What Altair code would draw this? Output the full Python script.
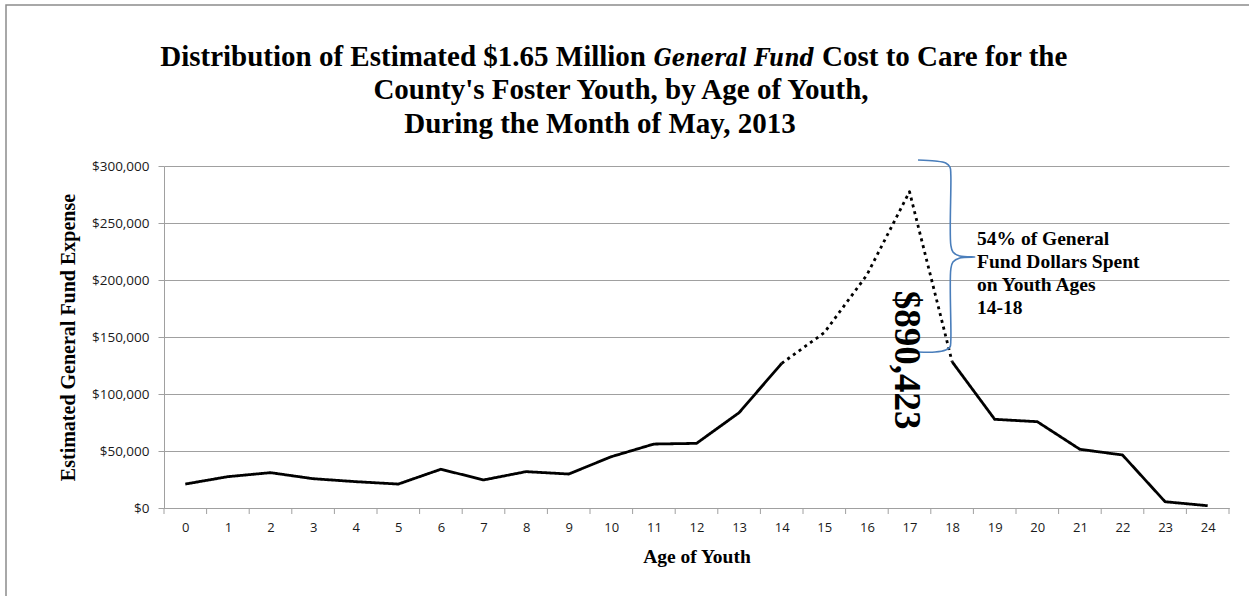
import altair as alt
import pandas as pd

# ---- data ----
ages = list(range(25))
cost = [21000, 27500, 31000, 25700, 23100, 21000, 34000, 24600, 31900, 29800,
        45000, 56100, 56700, 83600, 126900, 153800, 204400, 277500, 128300,
        77800, 75700, 51500, 46500, 5500, 2000]
dotted_start, dotted_end = 14, 18
y_ticks = [0, 50000, 100000, 150000, 200000, 250000, 300000]

title_l1 = ["Distribution of Estimated $1.65 Million", "General Fund", "Cost to Care for the"]
title_l2 = "County's Foster Youth, by Age of Youth,"
title_l3 = "During the Month of May, 2013"
big_label = "$890,423"
note_lines = ["54% of General", "Fund Dollars Spent", "on Youth Ages", "14-18"]

# brace outline (age units, dollars)
brace_x = [17.20, 17.60, 17.85, 17.95, 17.97, 17.97, 18.02, 18.18, 18.53,
           18.18, 18.02, 17.97, 17.97, 17.95, 17.85, 17.60, 17.20]
brace_y = [305300, 304400, 302600, 299100, 292100, 230700, 224600, 221000, 220200,
           219300, 215800, 209600, 147400, 141200, 138600, 136800, 136800]

# ---- build tables ----
rows = []
for a, c in zip(ages, cost):
    if a <= dotted_start:
        rows.append({"age": a, "cost": c, "seg": "a"})
    if dotted_start <= a <= dotted_end:
        rows.append({"age": a, "cost": c, "seg": "b"})
    if a >= dotted_end:
        rows.append({"age": a, "cost": c, "seg": "c"})
df = pd.DataFrame(rows)
edges = pd.DataFrame({"edge": [a - 0.5 for a in ages] + [ages[-1] + 0.5]})
brace = pd.DataFrame({"bx": brace_x, "by": brace_y, "i": range(len(brace_x))})
one = pd.DataFrame({"k": [0]})

W, H = 1065, 342
GRAY = "#a0a0a0"
SERIF = "Liberation Serif"
SANS = "Open Sans"

x_scale = alt.Scale(domain=[-0.5, 24.5], nice=False, zero=False)
y_scale = alt.Scale(domain=[0, 300000], nice=False, zero=True)

line = alt.Chart(df).mark_line(color="black", strokeWidth=2.8, strokeJoin="round").encode(
    x=alt.X("age:Q", scale=x_scale,
            axis=alt.Axis(values=ages, ticks=False, grid=False, domainColor=GRAY,
                          labelFont=SANS, labelFontSize=13, labelColor="#1a1a1a",
                          labelPadding=13, title="Age of Youth", titleFont=SERIF,
                          titleFontSize=19.5, titleFontWeight="bold", titleColor="black",
                          titleY=48, titleBaseline="middle")),
    y=alt.Y("cost:Q", scale=y_scale,
            axis=alt.Axis(values=y_ticks, format="$,.0f", grid=True, gridColor=GRAY,
                          domainColor=GRAY, tickColor=GRAY, tickSize=6,
                          labelFont=SANS, labelFontSize=13.5, labelColor="#1a1a1a",
                          labelPadding=9, title="Estimated General Fund Expense",
                          titleFont=SERIF, titleFontSize=20, titleFontWeight="bold",
                          titleColor="black", titleX=-96, titleY=H / 2,
                          titleAngle=-90, titleAlign="center", titleBaseline="middle")),
    detail="seg:N",
    strokeDash=alt.StrokeDash("seg:N", scale=alt.Scale(domain=["a", "b", "c"],
                              range=[[1, 0], [3, 4], [1, 0]]), legend=None),
)

ticks = alt.Chart(edges).mark_rule(color=GRAY, strokeWidth=1).encode(
    x=alt.X("edge:Q", scale=x_scale),
    y=alt.value(H), y2=alt.value(H + 6),
)

brace_line = alt.Chart(brace).mark_line(color="#4a7ebb", strokeWidth=1.6,
                                         interpolate="catmull-rom").encode(
    x=alt.X("bx:Q", scale=x_scale),
    y=alt.Y("by:Q", scale=y_scale),
    order="i:Q",
)

def txt(text, x, y, size, weight="bold", style="normal", align="center",
        angle=0, font=SERIF, baseline="alphabetic", line_height=None):
    kw = dict(text=text, font=font, fontSize=size, fontWeight=weight, fontStyle=style,
              align=align, baseline=baseline, angle=angle, color="black")
    if line_height:
        kw["lineHeight"] = line_height
    return alt.Chart(one).mark_text(**kw).encode(x=alt.value(x), y=alt.value(y))

TS = 29
titles = [
    txt(title_l1[0], 482, -100, TS, align="right"),
    txt(title_l1[1], 570, -100, 23.5, style="italic", align="center",
        font="DejaVu Serif Condensed"),
    txt(title_l1[2], 658, -100, TS, align="left"),
    txt(title_l2, 457, -67, TS),
    txt(title_l3, 436, -33, TS),
]

big = txt(big_label, 742, 194, 37, angle=90, baseline="middle")
note = txt(note_lines, 813, 79, 19.5, align="left", line_height=23)

frame = alt.Chart(one).mark_rect(fill="transparent", stroke="#8c8c8c", strokeWidth=1.5).encode(
    x=alt.value(-158), x2=alt.value(W + 100), y=alt.value(-161), y2=alt.value(H + 100)
)

chart = alt.layer(frame, ticks, line, brace_line, big, note, *titles).properties(
    width=W, height=H,
    autosize=alt.AutoSizeParams(type="none"),
    padding={"left": 164, "top": 166, "right": 20, "bottom": 88},
    background="white",
).configure_view(stroke=None)

chart.save("out.html", embed_options={"renderer": "svg", "actions": False})
